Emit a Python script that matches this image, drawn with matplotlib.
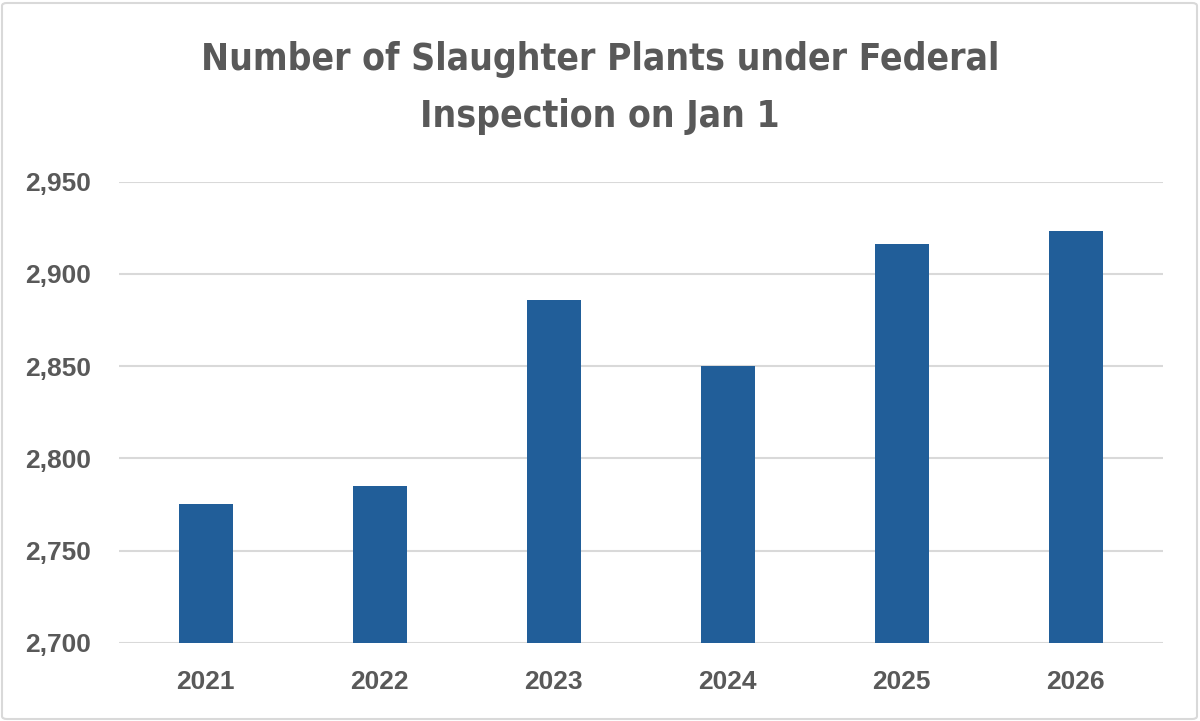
import matplotlib
matplotlib.use("Agg")
import matplotlib.pyplot as plt
from matplotlib.patches import FancyBboxPatch
from matplotlib.ticker import FuncFormatter, MultipleLocator
from matplotlib import font_manager
from matplotlib.font_manager import FontProperties

years = ["2021", "2022", "2023", "2024", "2025", "2026"]
plants = [2775, 2785, 2886, 2850, 2916, 2923]
title_lines = ["Number of Slaughter Plants under Federal", "Inspection on Jan 1"]

# pick a condensed/narrow bold font if one is installed
def pick_title_font():
    cands = []
    for f in font_manager.fontManager.ttflist:
        st = str(f.stretch).lower()
        nm = f.name.lower()
        w = f.weight if isinstance(f.weight, int) else {"bold": 700, "semibold": 600}.get(str(f.weight).lower(), 400)
        if ("condensed" in st or "narrow" in nm or "condensed" in nm) and w >= 600 and f.style == "normal":
            cands.append((abs(w - 700), f.fname))
    if cands:
        cands.sort()
        return FontProperties(fname=cands[0][1])
    return FontProperties(family="Roboto", weight="bold")

W, H = 1200, 721
fig = plt.figure(figsize=(W / 100, H / 100), dpi=100)
fig.patch.set_facecolor("white")

border = FancyBboxPatch((2 / W, 2 / H), 1 - 5 / W, 1 - 5 / H,
                        boxstyle="round,pad=0,rounding_size=0.004",
                        transform=fig.transFigure, fill=False,
                        edgecolor="#D9D9D9", linewidth=1.5)
fig.patches.append(border)

left, right = 118.6 / W, 1162.6 / W
bottom, top = 1 - 642.7 / H, 1 - 181.7 / H
ax = fig.add_axes([left, bottom, right - left, top - bottom])

x = range(len(years))
ax.bar(x, plants, width=0.31, color="#215E99", zorder=3)
ax.set_xlim(-0.5, len(years) - 0.5)
ax.set_ylim(2700, 2950)
ax.yaxis.set_major_locator(MultipleLocator(50))
ax.yaxis.set_major_formatter(FuncFormatter(lambda v, p: f"{int(v):,}"))
ax.set_xticks(list(x))
ax.set_xticklabels(years)

ax.grid(axis="y", color="#D9D9D9", linewidth=1.5, zorder=0)
ax.set_axisbelow(True)
for s in ax.spines.values():
    s.set_visible(False)
ax.tick_params(axis="both", length=0, labelsize=19, labelcolor="#595959")
ax.tick_params(axis="x", pad=20)
ax.tick_params(axis="y", pad=20)
for lab in ax.get_xticklabels() + ax.get_yticklabels():
    lab.set_fontfamily("Liberation Sans")
    lab.set_fontweight("bold")

# title: two lines, sized to match the reference width of the first line
fp = pick_title_font()
fp.set_size(31)
renderer = fig.canvas.get_renderer()
t1 = fig.text(0.5, 1 - 70 / H, title_lines[0], ha="center", va="baseline",
              fontproperties=fp, color="#595959")
for _ in range(2):
    wpx = t1.get_window_extent(renderer).width
    fp.set_size(min(31, fp.get_size() * 797 / wpx))
    t1.set_fontproperties(fp)
t2 = fig.text(0.5, 1 - 127 / H, title_lines[1], ha="center", va="baseline",
              fontproperties=fp, color="#595959")

fig.savefig("out.png", dpi=100, facecolor="white")
